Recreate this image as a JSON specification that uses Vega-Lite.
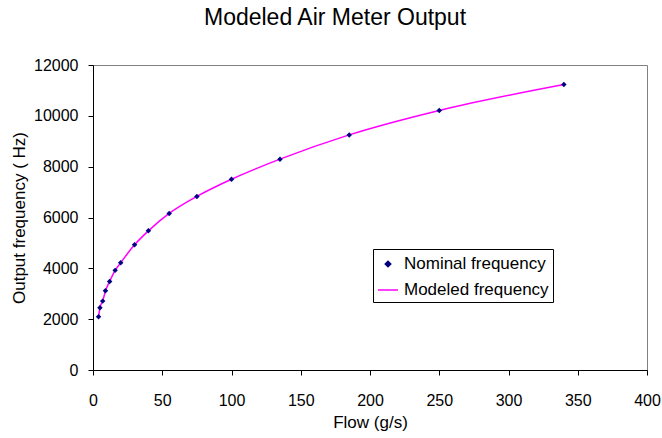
{
  "$schema": "https://vega.github.io/schema/vega-lite/v6.json",
  "width": 554,
  "height": 305,
  "autosize": "none",
  "padding": {"left": 93, "top": 65, "right": 15, "bottom": 68},
  "background": "white",
  "title": {
    "text": "Modeled Air Meter Output",
    "font": "Liberation Sans",
    "fontSize": 23,
    "fontWeight": "normal",
    "color": "black",
    "anchor": "middle",
    "baseline": "alphabetic",
    "offset": 9,
    "dx": -35
  },
  "config": {
    "view": {"stroke": "#808080", "strokeWidth": 1},
    "font": "Liberation Sans",
    "axis": {
      "grid": false,
      "domainColor": "black",
      "tickColor": "black",
      "tickSize": 5,
      "labelColor": "black",
      "labelFont": "Liberation Sans",
      "labelFontSize": 16,
      "titleFont": "Liberation Sans",
      "titleFontSize": 17,
      "titleFontWeight": "normal",
      "titleColor": "black"
    }
  },
  "data": {
    "values": [
      {"flow": 4, "freq": 2095},
      {"flow": 5, "freq": 2450},
      {"flow": 7, "freq": 2710},
      {"flow": 9, "freq": 3115},
      {"flow": 12, "freq": 3485},
      {"flow": 16, "freq": 3920},
      {"flow": 20, "freq": 4220},
      {"flow": 30, "freq": 4925},
      {"flow": 40, "freq": 5475},
      {"flow": 55, "freq": 6160},
      {"flow": 75, "freq": 6830},
      {"flow": 100, "freq": 7505},
      {"flow": 135, "freq": 8295},
      {"flow": 185, "freq": 9250},
      {"flow": 250, "freq": 10210},
      {"flow": 340, "freq": 11230}
    ]
  },
  "encoding": {
    "x": {
      "field": "flow",
      "type": "quantitative",
      "scale": {"domain": [0, 400], "nice": false, "zero": true},
      "axis": {"title": "Flow (g/s)", "values": [0, 50, 100, 150, 200, 250, 300, 350, 400], "labelPadding": 17, "titlePadding": 6, "labelFlush": false}
    },
    "y": {
      "field": "freq",
      "type": "quantitative",
      "scale": {"domain": [0, 12000], "nice": false},
      "axis": {"title": "Output frequency ( Hz)", "values": [0, 2000, 4000, 6000, 8000, 10000, 12000], "labelPadding": 10, "titlePadding": 5, "format": "d", "labelFlush": false}
    }
  },
  "layer": [
    {
      "mark": {"type": "line", "interpolate": "monotone", "strokeWidth": 1.5},
      "encoding": {
        "color": {
          "datum": "Modeled frequency",
          "type": "nominal",
          "scale": {"domain": ["Nominal frequency", "Modeled frequency"], "range": ["#000080", "#FF00FF"]},
          "legend": {
            "title": null,
            "orient": "none",
            "legendX": 280,
            "legendY": 184,
            "strokeColor": "black",
            "padding": 4,
            "rowPadding": 7,
            "labelFontSize": 17,
            "labelFont": "Liberation Sans",
            "labelColor": "black",
            "labelOffset": 5,
            "symbolSize": 400,
            "symbolType": "stroke",
            "symbolStrokeWidth": 1.5,
            "fillColor": "white",
            "encode": {
              "symbols": {
                "update": {
                  "shape": {"signal": "datum.value == 'Nominal frequency' ? 'diamond' : 'stroke'"},
                  "size": {"signal": "datum.value == 'Nominal frequency' ? 30 : 400"},
                  "fill": {"signal": "datum.value == 'Nominal frequency' ? '#000080' : 'transparent'"},
                  "stroke": {"signal": "datum.value == 'Nominal frequency' ? 'transparent' : '#FF00FF'"},
                  "opacity": {"value": 1}
                }
              }
            }
          }
        }
      }
    },
    {
      "mark": {"type": "point", "shape": "diamond", "filled": true, "size": 30, "opacity": 1},
      "encoding": {
        "color": {"datum": "Nominal frequency", "type": "nominal"}
      }
    }
  ]
}
